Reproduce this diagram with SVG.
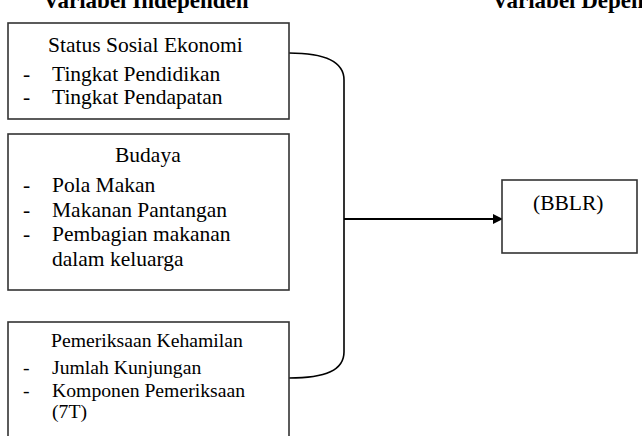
<svg xmlns="http://www.w3.org/2000/svg" width="642" height="436" viewBox="0 0 642 436">
<defs>
<style>
.box{fill:#fff;stroke:#333;stroke-width:1.6}
.t{font-family:"Liberation Serif","Times New Roman",serif;font-size:21.5px;fill:#000}
.s{font-family:"Liberation Serif","Times New Roman",serif;font-size:19.7px;fill:#000}
.h{font-family:"Liberation Serif","Times New Roman",serif;font-size:23px;font-weight:bold;fill:#000}
.c{fill:none;stroke:#000;stroke-width:1.6}
</style>
<marker id="ah" markerWidth="10" markerHeight="10" refX="10" refY="5" orient="auto" markerUnits="userSpaceOnUse">
<path d="M0,0 L10,5 L0,10 Z" fill="#000"/>
</marker>
</defs>
<rect width="642" height="436" fill="#fff"/>
<text class="h" x="43" y="8">Variabel Independen</text>
<text class="h" x="492" y="8">Variabel Dependen</text>
<g id="connectors">
<path class="c" d="M289,53 C326,53 344,62 344,80 L344,352 C344,370 326,378 289,378"/>
<line x1="344" y1="219" x2="503" y2="219" stroke="#000" stroke-width="2.2" marker-end="url(#ah)"/>
</g>
<g id="node-ses">
<rect class="box" x="8" y="23" width="281" height="96"/>
<text class="t" x="48" y="52">Status Sosial Ekonomi</text>
<text class="t" x="23" y="81">-</text>
<text class="t" x="52" y="81">Tingkat Pendidikan</text>
<text class="t" x="23" y="104">-</text>
<text class="t" x="52" y="104">Tingkat Pendapatan</text>
</g>
<g id="node-budaya">
<rect class="box" x="8" y="134" width="281" height="156"/>
<text class="t" x="115" y="162">Budaya</text>
<text class="t" x="23" y="192">-</text>
<text class="t" x="52" y="192">Pola Makan</text>
<text class="t" x="23" y="217">-</text>
<text class="t" x="52" y="217">Makanan Pantangan</text>
<text class="t" x="23" y="241">-</text>
<text class="t" x="52" y="241">Pembagian makanan</text>
<text class="t" x="52" y="266">dalam keluarga</text>
</g>
<g id="node-pemeriksaan">
<rect class="box" x="8" y="322" width="281" height="130"/>
<text class="s" x="51" y="347">Pemeriksaan Kehamilan</text>
<text class="s" x="23" y="374">-</text>
<text class="s" x="52" y="374">Jumlah Kunjungan</text>
<text class="s" x="23" y="397">-</text>
<text class="s" x="52" y="397">Komponen Pemeriksaan</text>
<text class="s" x="52" y="418">(7T)</text>
</g>
<g id="node-bblr">
<rect class="box" x="502" y="180" width="135" height="73"/>
<text class="t" x="533" y="210">(BBLR)</text>
</g>
</svg>
